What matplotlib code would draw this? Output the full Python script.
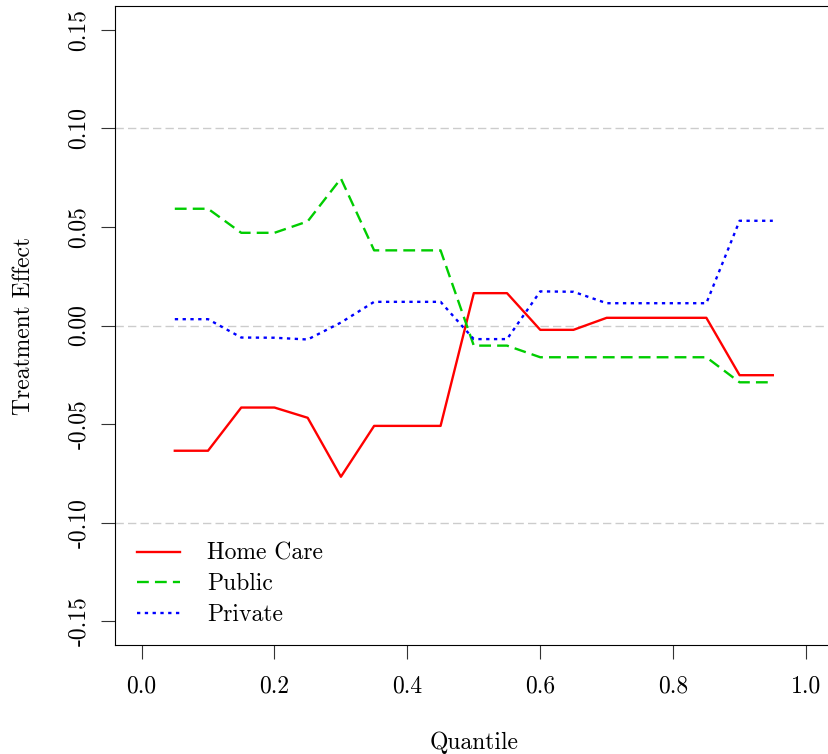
import numpy as np
import matplotlib
matplotlib.use("Agg")
import matplotlib.pyplot as plt

plt.rcParams.update({
    'font.family': 'cmr10',
    'mathtext.fontset': 'cm',
    'axes.unicode_minus': False,
    'font.size': 17,
})

# quantile treatment effects
quantiles = [0.05, 0.10, 0.15, 0.20, 0.25, 0.30, 0.35, 0.40, 0.45, 0.50,
             0.55, 0.60, 0.65, 0.70, 0.75, 0.80, 0.85, 0.90, 0.95]
home_care = [-0.0635, -0.0635, -0.0416, -0.0416, -0.0468, -0.0767, -0.0509, -0.0509, -0.0509, 0.0164,
             0.0164, -0.0022, -0.0022, 0.0039, 0.0039, 0.0039, 0.0039, -0.0252, -0.0252]
public = [0.0592, 0.0592, 0.0470, 0.0470, 0.0528, 0.0745, 0.0381, 0.0381, 0.0381, -0.0102,
          -0.0102, -0.0161, -0.0161, -0.0161, -0.0161, -0.0161, -0.0161, -0.0288, -0.0288]
private = [0.0032, 0.0032, -0.0061, -0.0062, -0.0071, 0.0015, 0.0120, 0.0120, 0.0120, -0.0069,
           -0.0069, 0.0173, 0.0171, 0.0113, 0.0113, 0.0113, 0.0113, 0.0531, 0.0531]

xticks = [0.0, 0.2, 0.4, 0.6, 0.8, 1.0]
yticks = [-0.15, -0.10, -0.05, 0.00, 0.05, 0.10, 0.15]
grid_at = [-0.10, 0.00, 0.10]

fig = plt.figure(figsize=(8.29, 7.54), dpi=100)
ax = fig.add_axes([115/829, 1 - 645/754, 717.6/829, 639/754])

for g in grid_at:
    ax.axhline(g, color='#cccccc', lw=1.0, dashes=(6, 3), zorder=0)

ax.plot(quantiles, home_care, color='#ff0000', lw=1.7, label='Home Care')
ax.plot(quantiles, public, color='#00cd00', lw=1.7, dashes=(5.0, 2.6), label='Public')
ax.plot(quantiles, private, color='#0000ff', lw=1.7, dashes=(1.4, 1.9), label='Private')

ax.set_xlim(-0.04, 1.04)
ax.set_ylim(-0.162, 0.162)
ax.set_xticks(xticks)
ax.set_xticklabels([f"{v:.1f}" for v in xticks])
ax.set_yticks(yticks)
ax.set_yticklabels([f"{v:.2f}" for v in yticks], rotation=90, va='center')
ax.tick_params(direction='out', length=10, width=0.8, color='#333333')
ax.tick_params(axis='x', pad=12)
ax.tick_params(axis='y', pad=8)
for s in ax.spines.values():
    s.set_linewidth(0.8)

ax.set_xlabel('Quantile', labelpad=24)
ax.set_ylabel('Treatment Effect', labelpad=24)

ax.legend(loc='lower left', frameon=False, handlelength=1.8, handletextpad=1.15,
          labelspacing=0.35, borderaxespad=0.55, bbox_to_anchor=(0.0, -0.005))

fig.savefig("out.png", dpi=100)
